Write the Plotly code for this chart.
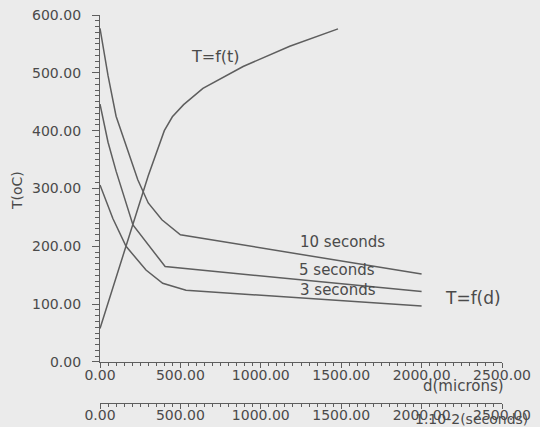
import plotly.graph_objects as go

# Temperature profiles T = f(d) for three exposure times (d in microns)
d_10s = [0, 50, 100, 235, 300, 385, 500, 2000]
T_10s = [577, 495, 425, 315, 275, 246, 220, 152]

d_5s = [0, 50, 100, 205, 405, 2000]
T_5s = [446, 380, 330, 237, 165, 122]

d_3s = [0, 80, 162, 286, 390, 535, 2000]
T_3s = [306, 248, 200, 159, 136, 124, 97]

# Temperature history T = f(t) (t in 10^-2 seconds)
t_hist = [0, 100, 200, 300, 400, 450, 520, 640, 890, 1180, 1480]
T_hist = [58, 146, 234, 322, 400, 424, 445, 473, 511, 546, 576]

x_tick_step = 500
y_tick_step = 100

BG = "#ebebeb"
LINE = "#5e5e5e"
TXT = "#4a4a4a"
FONT = "DejaVu Sans"

fig = go.Figure()
line_style = dict(color=LINE, width=1.5)
for dd, TT in [(d_10s, T_10s), (d_5s, T_5s), (d_3s, T_3s)]:
    fig.add_trace(go.Scatter(x=dd, y=TT, mode="lines", line=line_style,
                             showlegend=False, hoverinfo="skip"))
fig.add_trace(go.Scatter(x=t_hist, y=T_hist, mode="lines", line=line_style,
                         xaxis="x2", yaxis="y", showlegend=False, hoverinfo="skip"))

labels = [
    ("T=f(t)", 716, 528, 16),
    ("10 seconds", 1505, 207, 15),
    ("5 seconds", 1473, 159, 15),
    ("3 seconds", 1478, 125, 15),
    ("T=f(d)", 2319, 110, 17),
]
for txt, x, y, s in labels:
    fig.add_annotation(x=x, y=y, xref="x", yref="y", text=txt, showarrow=False,
                       font=dict(family=FONT, size=s, color=TXT),
                       xanchor="center", yanchor="middle")
fig.add_annotation(x=2263, y=0.044, xref="x", yref="paper", text="d(microns)",
                   showarrow=False, font=dict(family=FONT, size=15, color=TXT),
                   xanchor="center", yanchor="middle")
fig.add_annotation(x=1949, y=-0.04, xref="x", yref="paper", text="1.10-2(seconds)",
                   showarrow=False, font=dict(family=FONT, size=14, color=TXT),
                   xanchor="left", yanchor="middle")
fig.add_annotation(x=-0.207, y=297, xref="paper", yref="y", text="T(oC)",
                   textangle=-90, showarrow=False,
                   font=dict(family=FONT, size=14, color=TXT),
                   xanchor="center", yanchor="middle")

axis_common = dict(
    showgrid=False, zeroline=False, showline=True, linecolor=LINE, linewidth=1.3,
    ticks="outside", tickcolor=LINE, tickwidth=1.2, tickformat=".2f",
    tickfont=dict(family=FONT, size=14, color=TXT), tickmode="linear", tick0=0,
    automargin=False,
)
x_minor = dict(dtick=50, ticklen=3, ticks="outside", tickcolor=LINE, tickwidth=1)

fig.update_layout(
    width=540, height=427,
    margin=dict(l=100, r=38, t=15, b=24, autoexpand=False),
    paper_bgcolor=BG, plot_bgcolor=BG,
    xaxis=dict(range=[0, 2500], dtick=x_tick_step, ticklen=5, minor=x_minor,
               anchor="y", ticklabelstandoff=-5, **axis_common),
    xaxis2=dict(range=[0, 2500], dtick=x_tick_step, ticklen=5, minor=x_minor,
                overlaying="x", anchor="free", position=0, side="bottom",
                ticklabelstandoff=-6, **axis_common),
    yaxis=dict(range=[0, 600], dtick=y_tick_step, ticklen=7, domain=[0.1057, 1],
               minor=dict(dtick=10, ticklen=4, ticks="outside", tickcolor=LINE, tickwidth=1),
               ticklabelstandoff=8, **axis_common),
)

fig.write_html("out.html")
